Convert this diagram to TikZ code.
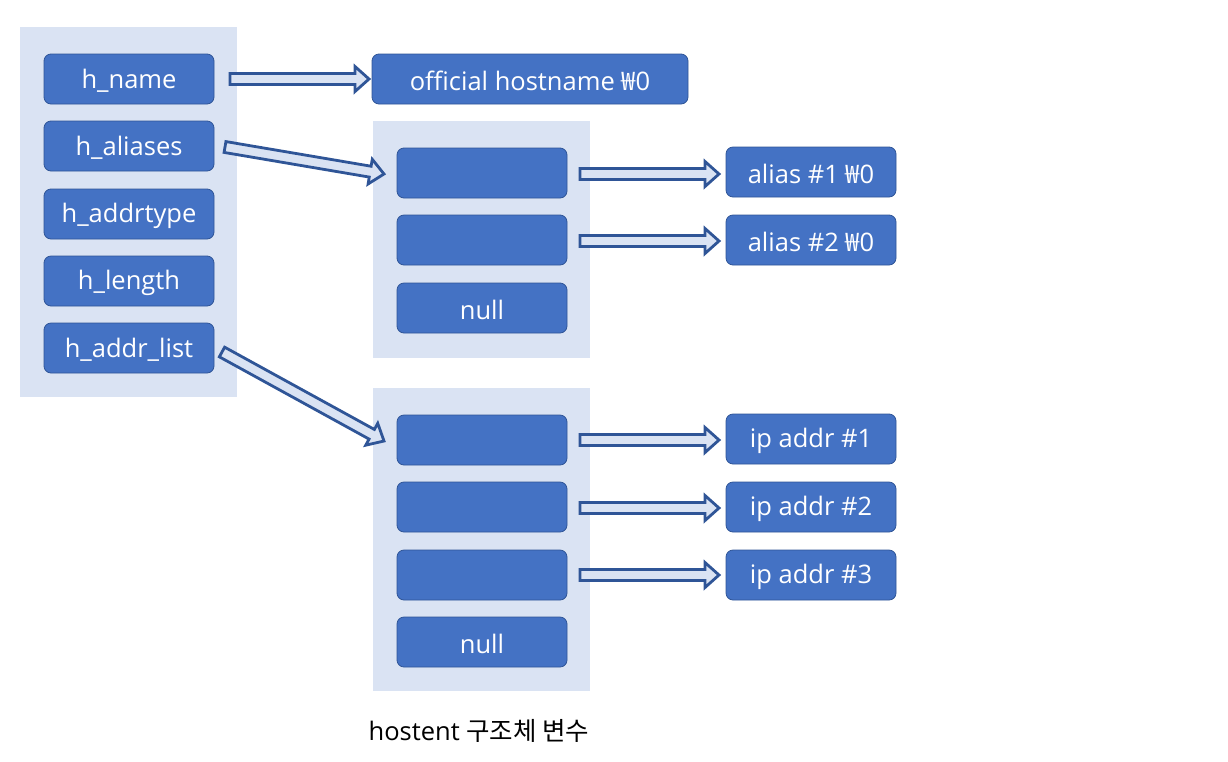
\documentclass[tikz,border=0pt]{standalone}
\usepackage{fontspec}
\setmainfont{Open Sans}
\newfontfamily\cjk{Noto Sans CJK KR}
\usetikzlibrary{calc}
\definecolor{panel}{HTML}{DAE3F3}
\definecolor{boxfill}{HTML}{4472C4}
\definecolor{boxline}{HTML}{2F5597}
\tikzset{
  panelbox/.style={fill=panel, draw=none},
  cell/.style={fill=boxfill, draw=boxline, line width=0.8pt, rounded corners=7pt},
  celltext/.style={text=white, font=\fontsize{25.5}{28}\selectfont, yshift=-1.5pt},
}
\newcommand\won{{\cjk ₩}}
\newcommand\barrow[2]{%
  \path let \p1=(#1), \p2=(#2), \n1={atan2(\y2-\y1,\x2-\x1)}, \n2={veclen(\x2-\x1,\y2-\y1)} in
  [draw=boxline, fill=panel, line width=2.8pt, shift={(\p1)}, rotate=\n1]
  (0,-5.5) -- (\n2-14,-5.5) -- (\n2-14,-12.5) -- (\n2,0) -- (\n2-14,12.5) -- (\n2-14,5.5) -- (0,5.5) -- cycle;}
\newcommand\cellbox[6]{% name, x1, y1, x2, y2, text
  \draw[cell] (#2,#3) rectangle (#4,#5);
  \node[celltext] (#1) at ({(#2+#4)/2},{(#3+#5)/2}) {#6};}
\begin{document}
\begin{tikzpicture}[x=1pt,y=-1pt]
\useasboundingbox (0,0) rectangle (1228,761);
% panels
\fill[panelbox] (20,27) rectangle (237,397);
\fill[panelbox] (373,121) rectangle (590,358);
\fill[panelbox] (373,388) rectangle (590,691);
% left cells
\cellbox{hname}{44}{54}{214}{104}{h\_name}
\cellbox{haliases}{44}{121}{214}{171}{h\_aliases}
\cellbox{haddrtype}{44}{189}{214}{239}{h\_addrtype}
\cellbox{hlength}{44}{256}{214}{306}{h\_length}
\cellbox{haddrlist}{44}{323}{214}{373}{h\_addr\_list}
% official
\cellbox{official}{372}{54}{688}{104}{official hostname \won0}
% alias array
\cellbox{a1}{397}{148}{567}{198}{}
\cellbox{a2}{397}{215}{567}{265}{}
\cellbox{anull}{397}{283}{567}{333}{null}
% addr array
\cellbox{p1}{397}{415}{567}{465}{}
\cellbox{p2}{397}{482}{567}{532}{}
\cellbox{p3}{397}{550}{567}{600}{}
\cellbox{pnull}{397}{617}{567}{667}{null}
% right
\cellbox{alias1}{726}{147}{896}{197}{alias \#1 \won0}
\cellbox{alias2}{726}{215}{896}{265}{alias \#2 \won0}
\cellbox{ip1}{726}{414}{896}{464}{ip addr \#1}
\cellbox{ip2}{726}{482}{896}{532}{ip addr \#2}
\cellbox{ip3}{726}{550}{896}{600}{ip addr \#3}
% arrow endpoints
\coordinate (s0) at (230,79);  \coordinate (e0) at (369,79);
\coordinate (s1) at (225,147); \coordinate (e1) at (384,174);
\coordinate (s2) at (222,352); \coordinate (e2) at (384,441);
\coordinate (s3) at (580,174); \coordinate (e3) at (719,174);
\coordinate (s4) at (580,241); \coordinate (e4) at (719,241);
\coordinate (s5) at (580,440); \coordinate (e5) at (719,440);
\coordinate (s6) at (580,508); \coordinate (e6) at (719,508);
\coordinate (s7) at (580,575); \coordinate (e7) at (719,575);
\barrow{s0}{e0}
\barrow{s1}{e1}
\barrow{s2}{e2}
\barrow{s3}{e3}
\barrow{s4}{e4}
\barrow{s5}{e5}
\barrow{s6}{e6}
\barrow{s7}{e7}
% caption
\node[font=\fontsize{25.5}{28}\selectfont] (cap) at (479,731) {hostent {\cjk 구조체 변수}};
\end{tikzpicture}
\end{document}
